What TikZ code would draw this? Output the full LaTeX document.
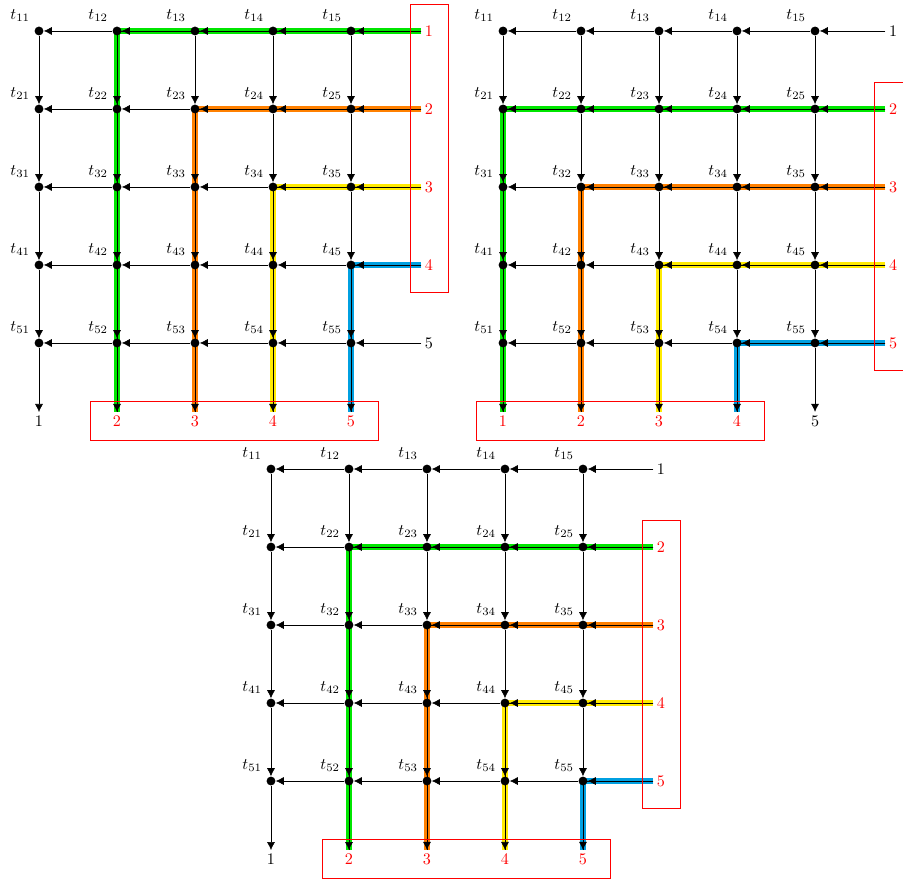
\documentclass[tikz,border=0pt]{standalone}
\usepackage{amsmath}
\usetikzlibrary{arrows.meta,positioning,calc,backgrounds}
\definecolor{pathgreen}{RGB}{0,230,0}
\definecolor{pathorange}{RGB}{255,128,0}
\definecolor{pathyellow}{RGB}{255,235,0}
\definecolor{pathblue}{RGB}{0,160,225}
\definecolor{boxred}{RGB}{255,0,0}

\begin{document}
\begin{tikzpicture}[x=1.7cm, y=-1.7cm,
  dot/.style={circle, fill=black, inner sep=0pt, minimum size=5.5pt},
  port/.style={inner sep=2pt},
  flow/.style={-{Latex[length=5pt,width=5pt]}, black},
  hl/.style={line width=0.55pt, preaction={draw=#1, line width=3.6pt}},
  redbox/.style={draw=boxred, line width=0.5pt}]

\useasboundingbox (0,0) rectangle (11.577,11.308);

% ================= THREE GRIDS =================
\foreach \g/\sx/\sy/\ib/\ob in {a/0.5/0.397/5/1, b/6.449/0.397/1/5, c/3.474/6.013/1/1} {
\begin{scope}[shift={(\sx,\sy)}]
  % grid points
  \foreach \i in {1,...,5}
    \foreach \j in {1,...,5}
      \node[dot, label={above left:$t_{\i\j}$}] (\g\i\j) at (\j-1,\i-1) {};
  % inputs (right) and outputs (bottom)
  \foreach \i in {1,...,5} {
    \ifnum\i=\ib\relax \def\pc{black}\else\def\pc{boxred}\fi
    \node[port, text=\pc] (\g in\i) at (5,\i-1) {\i};
    \ifnum\i=\ob\relax \def\pc{black}\else\def\pc{boxred}\fi
    \node[port, text=\pc] (\g out\i) at (\i-1,5) {\i};
  }
  % flow arrows
  \foreach \i in {1,...,5} {
    \draw[flow] (\g in\i) -- (\g\i5);
    \foreach \j/\k in {5/4,4/3,3/2,2/1}
      \draw[flow] (\g\i\j) -- (\g\i\k);
  }
  \foreach \j in {1,...,5} {
    \foreach \i/\k in {1/2,2/3,3/4,4/5}
      \draw[flow] (\g\i\j) -- (\g\k\j);
    \draw[flow] (\g5\j) -- (\g out\j);
  }
\end{scope}
}

% ================= HIGHLIGHTED ROUTES =================
\begin{scope}[on background layer]
\draw[hl=pathgreen]  (ain1) -| (aout2);
\draw[hl=pathorange] (ain2) -| (aout3);
\draw[hl=pathyellow] (ain3) -| (aout4);
\draw[hl=pathblue]   (ain4) -| (aout5);

\draw[hl=pathgreen]  (bin2) -| (bout1);
\draw[hl=pathorange] (bin3) -| (bout2);
\draw[hl=pathyellow] (bin4) -| (bout3);
\draw[hl=pathblue]   (bin5) -| (bout4);

\draw[hl=pathgreen]  (cin2) -| (cout2);
\draw[hl=pathorange] (cin3) -| (cout3);
\draw[hl=pathyellow] (cin4) -| (cout4);
\draw[hl=pathblue]   (cin5) -| (cout5);
\end{scope}

% ================= RED BOXES =================
\draw[redbox] ($(ain1)+(-0.244,-0.346)$) rectangle ($(ain4)+(0.244,0.346)$);
\draw[redbox] ($(aout2)+(-0.346,-0.25)$) rectangle ($(aout5)+(0.346,0.25)$);
\draw[redbox] ($(bin2)+(-0.244,-0.346)$) rectangle ($(bin5)+(0.244,0.346)$);
\draw[redbox] ($(bout1)+(-0.346,-0.25)$) rectangle ($(bout4)+(0.346,0.25)$);
\draw[redbox] ($(cin2)+(-0.244,-0.346)$) rectangle ($(cin5)+(0.244,0.346)$);
\draw[redbox] ($(cout2)+(-0.346,-0.25)$) rectangle ($(cout5)+(0.346,0.25)$);

\end{tikzpicture}
\end{document}
